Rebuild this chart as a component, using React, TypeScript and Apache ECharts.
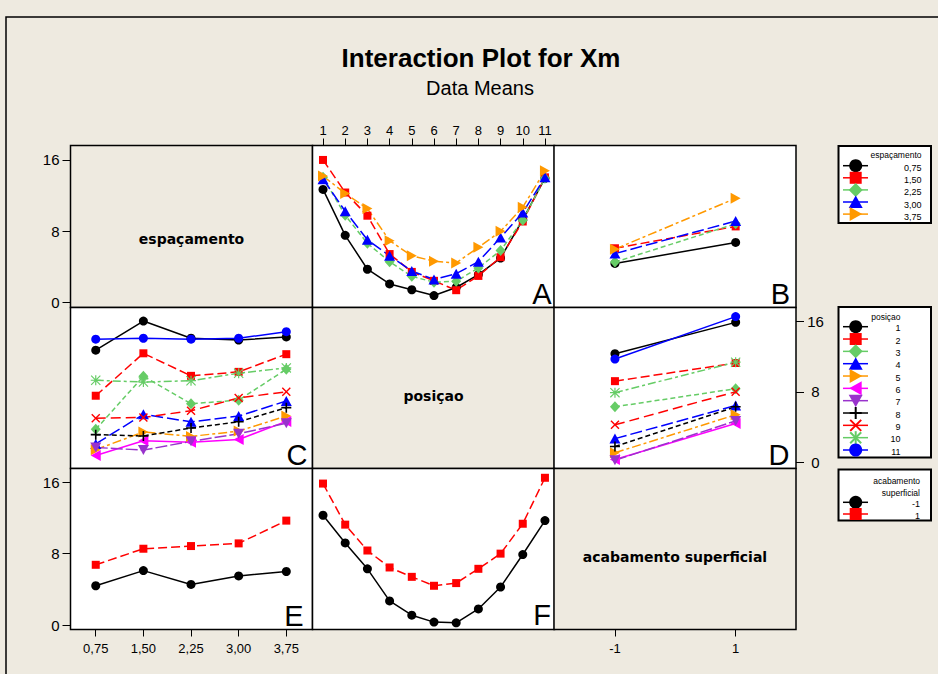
import { useEffect, useRef } from 'react';
import * as echarts from 'echarts';

// ---------- data ----------
const espacamentoLabels = ['0,75', '1,50', '2,25', '3,00', '3,75'];
const posicaoLabels = ['1', '2', '3', '4', '5', '6', '7', '8', '9', '10', '11'];
const acabamentoLabels = ['-1', '1'];
const acabamentoValues = [-1, 1];

// mean Xm: rows = posiçao 1..11, cols = espaçamento 0,75..3,75
const meansPosEsp: number[][] = [
  [12.7, 16.0, 14.05, 13.85, 14.2],
  [7.55, 12.35, 9.8, 10.25, 12.25],
  [3.75, 9.75, 6.65, 7.05, 10.55],
  [2.1, 5.45, 4.6, 5.25, 6.95],
  [1.45, 3.45, 2.95, 3.55, 5.25],
  [0.8, 2.45, 2.3, 2.6, 4.65],
  [1.7, 1.4, 2.4, 3.25, 4.45],
  [3.15, 3.0, 3.9, 4.6, 6.2],
  [5.0, 5.1, 5.85, 7.3, 8.0],
  [9.3, 9.1, 9.25, 10.1, 10.7],
  [13.95, 14.05, 13.95, 14.05, 14.8],
];
// mean Xm: rows = acabamento -1, 1 ; cols = posiçao 1..11
const meansAcabPos: number[][] = [
  [12.3, 9.2, 6.3, 2.7, 1.1, 0.33, 0.25, 1.8, 4.26, 7.9, 11.7],
  [15.85, 11.25, 8.35, 6.45, 5.4, 4.4, 4.7, 6.3, 8.0, 11.35, 16.5],
];
// mean Xm: rows = acabamento -1, 1 ; cols = espaçamento
const meansAcabEsp: number[][] = [
  [4.4, 6.1, 4.55, 5.5, 6.0],
  [6.75, 8.55, 8.85, 9.15, 11.7],
];
const yTickValues = [0, 8, 16];

// ---------- styles ----------
const BG = '#EEEAE0';
const FONT = '"Liberation Sans", Arial, sans-serif';
const BOLDFONT = '"DejaVu Sans", Verdana, sans-serif';

type Mk = 'circle' | 'rect' | 'diamond' | 'triUp' | 'triRight' | 'triLeft' | 'triDown' | 'plus' | 'cross' | 'star';
interface St { color: string; mk: Mk; dash: any }

const espStyles: St[] = [
  { color: '#000000', mk: 'circle', dash: 'solid' },
  { color: '#FF0000', mk: 'rect', dash: [9, 4] },
  { color: '#66CC66', mk: 'diamond', dash: [5, 3] },
  { color: '#0000FF', mk: 'triUp', dash: [12, 4] },
  { color: '#FF9900', mk: 'triRight', dash: [9, 3, 3, 3] },
];
const posStyles: St[] = [
  ...espStyles,
  { color: '#FF00FF', mk: 'triLeft', dash: 'solid' },
  { color: '#9933CC', mk: 'triDown', dash: [12, 3] },
  { color: '#000000', mk: 'plus', dash: [5, 3] },
  { color: '#FF0000', mk: 'cross', dash: [10, 5] },
  { color: '#66CC66', mk: 'star', dash: [8, 3, 3, 3] },
  { color: '#0000FF', mk: 'circle', dash: 'solid' },
];
const acabStyles: St[] = [espStyles[0], espStyles[1]];

const SYMBOLS: Record<Mk, { symbol: string; size: any }> = {
  circle: { symbol: 'circle', size: 9 },
  rect: { symbol: 'rect', size: 8 },
  diamond: { symbol: 'diamond', size: [10, 11] },
  triUp: { symbol: 'triangle', size: [11, 10] },
  triRight: { symbol: 'path://M0,0L10,5L0,10Z', size: [10, 11] },
  triLeft: { symbol: 'path://M10,0L0,5L10,10Z', size: [10, 11] },
  triDown: { symbol: 'path://M0,0L10,0L5,10Z', size: [11, 10] },
  plus: { symbol: 'path://M4.2,0H5.8V4.2H10V5.8H5.8V10H4.2V5.8H0V4.2H4.2Z', size: 10 },
  cross: { symbol: 'path://M1.1,0L5,3.9L8.9,0L10,1.1L6.1,5L10,8.9L8.9,10L5,6.1L1.1,10L0,8.9L3.9,5L0,1.1Z', size: 9 },
  star: {
    symbol: 'path://M4.4,0H5.6V10H4.4Z M0,4.4H10V5.6H0Z M0.8,0L10,9.2L9.2,10L0,0.8Z M9.2,0L10,0.8L0.8,10L0,9.2Z',
    size: 10,
  },
};

// ---------- layout ----------
const colL = [70.5, 312.5, 554];
const colW = 242;
const rowT = [145.5, 307.5, 468.5];
const rowH = [162, 161, 161];
const yRange = [
  [-0.54, 17.62],
  [-0.68, 17.53],
  [-0.5, 17.54],
];
const xRange = [
  [-0.53, 4.55],
  [0.526, 11.43],
  [-2.01, 2.0],
];

function lineSeries(name: string, gi: number, data: number[][], st: St) {
  const s = SYMBOLS[st.mk];
  return {
    type: 'line',
    name,
    xAxisIndex: gi,
    yAxisIndex: gi,
    data,
    symbol: s.symbol,
    symbolSize: s.size,
    showSymbol: true,
    lineStyle: { color: st.color, width: 1.5, type: st.dash },
    itemStyle: { color: st.color },
    emphasis: { disabled: true },
    silent: true,
    clip: false,
  };
}

function legendMarker(mk: Mk, cx: number, cy: number, color: string, out: any[]) {
  const fill = { fill: color };
  const stroke = { stroke: color, lineWidth: 2 };
  const poly = (pts: number[][]) => out.push({ type: 'polygon', z: 20, shape: { points: pts }, style: fill });
  const ln = (x1: number, y1: number, x2: number, y2: number) =>
    out.push({ type: 'line', z: 20, shape: { x1, y1, x2, y2 }, style: stroke });
  switch (mk) {
    case 'circle':
      out.push({ type: 'circle', z: 20, shape: { cx, cy, r: 6.5 }, style: fill });
      break;
    case 'rect':
      out.push({ type: 'rect', z: 20, shape: { x: cx - 6, y: cy - 6, width: 12, height: 12 }, style: fill });
      break;
    case 'diamond':
      poly([[cx, cy - 7], [cx + 7, cy], [cx, cy + 7], [cx - 7, cy]]);
      break;
    case 'triUp':
      poly([[cx, cy - 6.5], [cx + 7, cy + 6], [cx - 7, cy + 6]]);
      break;
    case 'triRight':
      poly([[cx - 6, cy - 7], [cx + 6.5, cy], [cx - 6, cy + 7]]);
      break;
    case 'triLeft':
      poly([[cx + 6, cy - 7], [cx - 6.5, cy], [cx + 6, cy + 7]]);
      break;
    case 'triDown':
      poly([[cx - 7, cy - 6], [cx + 7, cy - 6], [cx, cy + 6.5]]);
      break;
    case 'plus':
      ln(cx, cy - 6, cx, cy + 6);
      ln(cx - 6, cy, cx + 6, cy);
      break;
    case 'cross':
      ln(cx - 5.5, cy - 5.5, cx + 5.5, cy + 5.5);
      ln(cx - 5.5, cy + 5.5, cx + 5.5, cy - 5.5);
      break;
    case 'star':
      ln(cx, cy - 6.5, cx, cy + 6.5);
      ln(cx - 5.5, cy - 5.5, cx + 5.5, cy + 5.5);
      ln(cx - 5.5, cy + 5.5, cx + 5.5, cy - 5.5);
      break;
  }
}

function txt(text: string, x: number, y: number, size: number, align: string, opts: any = {}) {
  return {
    type: 'text',
    z: 20,
    x,
    y,
    style: {
      text,
      fill: '#000',
      fontSize: size,
      fontFamily: opts.family || FONT,
      fontWeight: opts.weight || 'normal',
      align,
      verticalAlign: 'middle',
    },
  };
}

function buildOption() {
  const grids: any[] = [];
  const xAxes: any[] = [];
  const yAxes: any[] = [];
  const tickStyle = { show: true, length: 7, inside: false, lineStyle: { color: '#000', width: 1 } };
  for (let r = 0; r < 3; r++) {
    for (let c = 0; c < 3; c++) {
      const gi = r * 3 + c;
      const diag = r === c;
      grids.push({
        left: colL[c],
        top: rowT[r],
        width: colW,
        height: rowH[r],
        show: true,
        backgroundColor: diag ? BG : '#FFFFFF',
        borderColor: '#000',
        borderWidth: 1.5,
      });
      // x axis
      let xVisible = false;
      let xPos = 'bottom';
      let xVals: number[] = [];
      let xFmt: (v: number) => string = (v) => String(v);
      if (r === 0 && c === 1) {
        xVisible = true;
        xPos = 'top';
        xVals = posicaoLabels.map((_, i) => i + 1);
        xFmt = (v) => posicaoLabels[Math.round(v) - 1];
      } else if (r === 2 && c === 0) {
        xVisible = true;
        xVals = espacamentoLabels.map((_, i) => i);
        xFmt = (v) => espacamentoLabels[Math.round(v)];
      } else if (r === 2 && c === 2) {
        xVisible = true;
        xVals = acabamentoValues;
        xFmt = (v) => acabamentoLabels[acabamentoValues.indexOf(Math.round(v))];
      }
      xAxes.push({
        type: 'value',
        gridIndex: gi,
        min: xRange[c][0],
        max: xRange[c][1],
        show: xVisible,
        position: xPos,
        axisLine: { show: false, onZero: false },
        splitLine: { show: false },
        axisTick: { ...tickStyle, customValues: xVals },
        axisLabel: {
          customValues: xVals,
          formatter: xFmt,
          fontSize: 13,
          fontFamily: FONT,
          color: '#000',
          margin: xPos === 'top' ? 9 : 12,
        },
      });
      // y axis
      let yVisible = false;
      let yPos = 'left';
      if (c === 0 && (r === 0 || r === 2)) yVisible = true;
      if (c === 2 && r === 1) {
        yVisible = true;
        yPos = 'right';
      }
      yAxes.push({
        type: 'value',
        gridIndex: gi,
        min: yRange[r][0],
        max: yRange[r][1],
        show: yVisible,
        position: yPos,
        axisLine: { show: false, onZero: false },
        splitLine: { show: false },
        axisTick: { show: true, length: 8, lineStyle: { color: '#000', width: 1 }, customValues: yTickValues },
        axisLabel: {
          customValues: yTickValues,
          formatter: (v: number) => String(Math.round(v)),
          fontSize: 15,
          fontFamily: FONT,
          color: '#000',
          margin: yPos === 'left' ? 11 : 19.5,
          align: yPos === 'left' ? 'right' : 'center',
        },
      });
    }
  }

  const series: any[] = [];
  // A: espaçamento lines over posiçao (grid 1)
  espacamentoLabels.forEach((lab, j) => {
    series.push(lineSeries('A ' + lab, 1, posicaoLabels.map((_, i) => [i + 1, meansPosEsp[i][j]]), espStyles[j]));
  });
  // B: espaçamento lines over acabamento (grid 2)
  espacamentoLabels.forEach((lab, j) => {
    series.push(lineSeries('B ' + lab, 2, acabamentoValues.map((a, k) => [a, meansAcabEsp[k][j]]), espStyles[j]));
  });
  // C: posiçao lines over espaçamento (grid 3)
  posicaoLabels.forEach((lab, i) => {
    series.push(lineSeries('C ' + lab, 3, espacamentoLabels.map((_, j) => [j, meansPosEsp[i][j]]), posStyles[i]));
  });
  // D: posiçao lines over acabamento (grid 5)
  posicaoLabels.forEach((lab, i) => {
    series.push(lineSeries('D ' + lab, 5, acabamentoValues.map((a, k) => [a, meansAcabPos[k][i]]), posStyles[i]));
  });
  // E: acabamento lines over espaçamento (grid 6)
  acabamentoLabels.forEach((lab, k) => {
    series.push(lineSeries('E ' + lab, 6, espacamentoLabels.map((_, j) => [j, meansAcabEsp[k][j]]), acabStyles[k]));
  });
  // F: acabamento lines over posiçao (grid 7)
  acabamentoLabels.forEach((lab, k) => {
    series.push(lineSeries('F ' + lab, 7, posicaoLabels.map((_, i) => [i + 1, meansAcabPos[k][i]]), acabStyles[k]));
  });

  const g: any[] = [];
  // outer frame (top and left lines visible)
  g.push({ type: 'rect', z: 1, shape: { x: 6, y: 17, width: 1200, height: 1200 }, style: { fill: 'none', stroke: '#000', lineWidth: 1.5 } });
  // titles
  g.push(txt('Interaction Plot for Xm', 481, 58, 26, 'center', { weight: 'bold' }));
  g.push(txt('Data Means', 480, 88, 20, 'center'));
  // diagonal labels
  g.push(txt('espaçamento', 191.5, 238.5, 14, 'center', { weight: 'bold', family: BOLDFONT }));
  g.push(txt('posiçao', 433.5, 396, 14, 'center', { weight: 'bold', family: BOLDFONT }));
  g.push(txt('acabamento superficial', 675, 557, 14, 'center', { weight: 'bold', family: BOLDFONT }));
  // panel letters
  const letters: [string, number, number][] = [
    ['A', 551.7, 294],
    ['B', 790, 293.5],
    ['C', 307.5, 455],
    ['D', 789.5, 455],
    ['E', 303.5, 615.5],
    ['F', 551, 615],
  ];
  letters.forEach(([t, x, y]) => g.push(txt(t, x, y, 29, 'right')));

  // legend 1: espaçamento
  g.push({ type: 'rect', z: 15, shape: { x: 838.5, y: 146, width: 92.5, height: 77 }, style: { fill: '#FFF', stroke: '#000', lineWidth: 2 } });
  g.push(txt('espaçamento', 921.5, 155, 8.5, 'right'));
  espacamentoLabels.forEach((lab, j) => {
    const y = 165.7 + 12.1 * j;
    const st = espStyles[j];
    g.push({ type: 'line', z: 19, shape: { x1: 843, y1: y, x2: 868, y2: y }, style: { stroke: st.color, lineWidth: 1.5 } });
    legendMarker(st.mk, 855.7, y, st.color, g);
    g.push(txt(lab, 921.5, y + 2.5, 9, 'right'));
  });
  // legend 2: posiçao
  g.push({ type: 'rect', z: 15, shape: { x: 838.5, y: 307, width: 92.5, height: 150.5 }, style: { fill: '#FFF', stroke: '#000', lineWidth: 2 } });
  g.push(txt('posiçao', 900.5, 316.7, 8.5, 'right'));
  posicaoLabels.forEach((lab, i) => {
    const y = 326.7 + 12.33 * i;
    const st = posStyles[i];
    g.push({ type: 'line', z: 19, shape: { x1: 843, y1: y, x2: 868, y2: y }, style: { stroke: st.color, lineWidth: 1.5 } });
    legendMarker(st.mk, 855.7, y, st.color, g);
    g.push(txt(lab, 900.5, y + 1.5, 9, 'right'));
  });
  // legend 3: acabamento superficial
  g.push({ type: 'rect', z: 15, shape: { x: 838.5, y: 469.5, width: 92.5, height: 51 }, style: { fill: '#FFF', stroke: '#000', lineWidth: 2 } });
  g.push(txt('acabamento', 920, 480.7, 8.5, 'right'));
  g.push(txt('superficial', 920, 492.7, 8.5, 'right'));
  acabamentoLabels.forEach((lab, k) => {
    const y = 502.3 + 11.7 * k;
    const st = acabStyles[k];
    g.push({ type: 'line', z: 19, shape: { x1: 843, y1: y, x2: 868, y2: y }, style: { stroke: st.color, lineWidth: 1.5 } });
    legendMarker(st.mk, 855.7, y, st.color, g);
    g.push(txt(lab, 920, y + 1.5, 9, 'right'));
  });

  return {
    animation: false,
    backgroundColor: BG,
    grid: grids,
    xAxis: xAxes,
    yAxis: yAxes,
    series,
    graphic: { elements: g },
  };
}

export default function App() {
  const ref = useRef<HTMLDivElement>(null);
  useEffect(() => {
    const chart = echarts.init(ref.current!, undefined, { renderer: 'svg' });
    chart.setOption(buildOption() as any);
    return () => chart.dispose();
  }, []);
  return <div ref={ref} style={{ position: 'absolute', left: 0, top: 0, width: 938, height: 674 }} />;
}
